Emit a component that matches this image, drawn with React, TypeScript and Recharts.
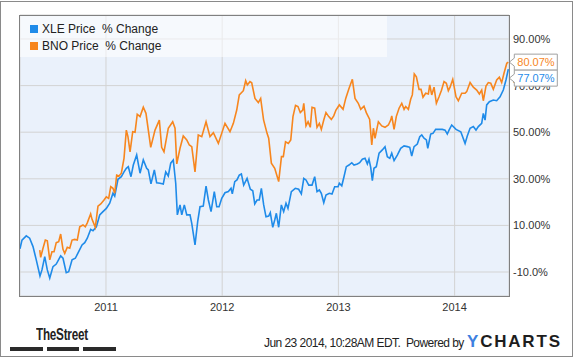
import React from "react";
import {
  LineChart,
  Line,
  XAxis,
  YAxis,
  CartesianGrid,
  ReferenceDot,
} from "recharts";

// decimal-year dates + % change
const xleDates = [
  2010.26, 2010.277, 2010.314, 2010.343, 2010.372, 2010.4, 2010.432, 2010.449, 2010.473, 2010.495,
  2010.516, 2010.544, 2010.572, 2010.61, 2010.63, 2010.658, 2010.679, 2010.708, 2010.736, 2010.765,
  2010.794, 2010.817, 2010.839, 2010.868, 2010.888, 2010.917, 2010.946, 2010.974, 2011.003, 2011.032,
  2011.06, 2011.075, 2011.103, 2011.132, 2011.155, 2011.175, 2011.192, 2011.215, 2011.235, 2011.264,
  2011.293, 2011.321, 2011.35, 2011.364, 2011.387, 2011.416, 2011.436, 2011.465, 2011.493, 2011.514,
  2011.536, 2011.557, 2011.579, 2011.6, 2011.614, 2011.637, 2011.652, 2011.674, 2011.695, 2011.723,
  2011.738, 2011.766, 2011.789, 2011.809, 2011.837, 2011.861, 2011.881, 2011.904, 2011.932, 2011.953,
  2011.973, 2011.996, 2012.024, 2012.053, 2012.076, 2012.087, 2012.108, 2012.127, 2012.147, 2012.165,
  2012.185, 2012.214, 2012.242, 2012.263, 2012.28, 2012.3, 2012.319, 2012.337, 2012.357, 2012.377,
  2012.4, 2012.414, 2012.435, 2012.452, 2012.466, 2012.486, 2012.509, 2012.529, 2012.549, 2012.566,
  2012.595, 2012.629, 2012.658, 2012.681, 2012.702, 2012.721, 2012.745, 2012.773, 2012.796, 2012.816,
  2012.836, 2012.853, 2012.874, 2012.893, 2012.922, 2012.945, 2012.968, 2012.997, 2013.008, 2013.029,
  2013.048, 2013.068, 2013.091, 2013.115, 2013.134, 2013.163, 2013.183, 2013.206, 2013.229, 2013.249,
  2013.263, 2013.278, 2013.292, 2013.306, 2013.326, 2013.35, 2013.378, 2013.401, 2013.421, 2013.442,
  2013.459, 2013.479, 2013.507, 2013.536, 2013.565, 2013.593, 2013.614, 2013.631, 2013.651, 2013.679,
  2013.7, 2013.717, 2013.737, 2013.757, 2013.769, 2013.794, 2013.814, 2013.837, 2013.866, 2013.894,
  2013.918, 2013.937, 2013.952, 2013.975, 2014.012, 2014.053, 2014.09, 2014.109, 2014.133, 2014.161,
  2014.184, 2014.204, 2014.233, 2014.247, 2014.262, 2014.276, 2014.299, 2014.333, 2014.362, 2014.391,
  2014.419, 2014.442, 2014.462,
];
const xleValues = [
  0, 3.7, 5.5, 4.5, 0.9, -4.8, -11.7, -9.1, -3.4, -9.1,
  -12.6, -7.7, -6.6, -3.1, -4.1, -10.3, -9.9, -4.8, -4.1, -1.3,
  1.6, 2.6, 4.5, 8.3, 7.7, 9.4, 14.5, 15.9, 17.3, 19.5,
  23.8, 22.6, 29.8, 30.9, 33.0, 34.5, 35.2, 30.9, 35.9, 40.2,
  32.4, 38.1, 34.5, 33.8, 27.8, 33.8, 28.3, 28.1, 27.8, 33.0,
  31.2, 36.7, 38.1, 28.1, 14.5, 18.8, 14.5, 18.8, 14.5, 14.5,
  10.9, 1.6, 11.6, 18.0, 18.3, 26.9, 20.9, 15.9, 24.5, 18.0,
  18.0, 21.6, 24.0, 24.5, 25.9, 23.5, 28.8, 29.5, 31.6, 32.1,
  27.3, 30.2, 25.5, 24.9, 19.2, 20.9, 20.9, 25.9, 18.8, 13.7,
  14.0, 15.5, 9.2, 12.3, 15.2, 9.2, 18.8, 15.9, 19.5, 17.3,
  24.5, 25.9, 25.5, 23.5, 30.2, 29.5, 27.3, 27.3, 30.9, 24.5,
  25.2, 23.8, 19.7, 23.0, 23.8, 23.5, 26.6, 26.6, 28.1, 27.0,
  30.9, 35.2, 35.9, 36.9, 35.9, 36.4, 36.9, 38.4, 38.8, 36.4,
  38.4, 34.9, 29.2, 34.5, 35.2, 41.0, 42.4, 43.8, 39.5, 38.8,
  41.0, 37.8, 40.2, 43.1, 44.1, 43.8, 43.5, 39.8, 43.8, 44.9,
  48.1, 48.8, 47.4, 46.7, 43.1, 49.2, 49.5, 51.2, 51.2, 51.2,
  50.9, 49.2, 50.9, 53.1, 51.2, 50.2, 45.2, 48.4, 51.7, 52.4,
  50.9, 52.4, 53.8, 58.1, 55.2, 61.7, 63.1, 63.8, 63.5, 65.2,
  68.1, 72.4, 77.07,
];

const bnoDates = [
  2010.43, 2010.438, 2010.458, 2010.478, 2010.495, 2010.516, 2010.535, 2010.553, 2010.572, 2010.593,
  2010.61, 2010.63, 2010.645, 2010.667, 2010.688, 2010.708, 2010.731, 2010.753, 2010.774, 2010.802,
  2010.822, 2010.839, 2010.868, 2010.88, 2010.908, 2010.931, 2010.955, 2010.983, 2011.003, 2011.023,
  2011.041, 2011.06, 2011.075, 2011.092, 2011.112, 2011.132, 2011.155, 2011.175, 2011.189, 2011.207,
  2011.23, 2011.25, 2011.269, 2011.293, 2011.321, 2011.344, 2011.385, 2011.422, 2011.459, 2011.479,
  2011.499, 2011.536, 2011.574, 2011.594, 2011.609, 2011.637, 2011.665, 2011.695, 2011.717, 2011.738,
  2011.766, 2011.794, 2011.824, 2011.861, 2011.895, 2011.924, 2011.967, 2012.024, 2012.067, 2012.096,
  2012.125, 2012.147, 2012.182, 2012.202, 2012.216, 2012.239, 2012.254, 2012.282, 2012.311, 2012.331,
  2012.356, 2012.386, 2012.4, 2012.423, 2012.452, 2012.486, 2012.51, 2012.526, 2012.545, 2012.569,
  2012.59, 2012.609, 2012.631, 2012.652, 2012.672, 2012.693, 2012.702, 2012.721, 2012.739, 2012.758,
  2012.773, 2012.796, 2012.816, 2012.836, 2012.853, 2012.874, 2012.893, 2012.917, 2012.939, 2012.96,
  2012.979, 2013.008, 2013.04, 2013.063, 2013.091, 2013.12, 2013.143, 2013.171, 2013.192, 2013.22,
  2013.24, 2013.269, 2013.287, 2013.301, 2013.315, 2013.344, 2013.373, 2013.401, 2013.43, 2013.45,
  2013.459, 2013.479, 2013.498, 2013.522, 2013.545, 2013.565, 2013.579, 2013.602, 2013.622, 2013.636,
  2013.653, 2013.671, 2013.694, 2013.711, 2013.728, 2013.751, 2013.774, 2013.786, 2013.803, 2013.823,
  2013.843, 2013.866, 2013.887, 2013.909, 2013.929, 2013.946, 2013.961, 2013.984, 2014.012, 2014.032,
  2014.061, 2014.09, 2014.104, 2014.133, 2014.161, 2014.19, 2014.213, 2014.233, 2014.247, 2014.27,
  2014.29, 2014.311, 2014.333, 2014.362, 2014.385, 2014.405, 2014.425, 2014.449, 2014.462,
];
const bnoValues = [
  -0.6, -3.7, 0.2, 3.7, 3.4, -4.8, -1.3, -1.3, 2.6, 3.0,
  6.3, -0.3, -2.0, 0.6, 0.2, 3.7, 4.0, 3.7, 9.4, 10.2,
  9.4, 11.1, 14.9, 12.6, 9.2, 18.3, 19.2, 20.9, 22.3, 21.6,
  26.6, 25.9, 23.8, 31.6, 31.2, 32.4, 38.8, 50.9, 48.1, 41.6,
  50.2, 50.0, 57.7, 56.7, 60.7, 58.1, 43.5, 50.9, 55.2, 43.5,
  41.6, 51.7, 54.5, 51.7, 36.4, 43.1, 48.4, 46.7, 44.5, 43.8,
  33.0, 48.8, 48.1, 54.5, 48.1, 49.8, 45.2, 53.8, 50.2, 53.8,
  59.5, 66.0, 67.8, 72.1, 70.3, 71.7, 71.2, 64.5, 62.7, 64.5,
  55.3, 49.5, 47.4, 36.7, 34.5, 28.8, 39.5, 39.5, 45.9, 45.2,
  46.7, 56.7, 61.5, 61.0, 58.4, 59.5, 62.4, 52.7, 54.5, 52.1,
  60.7, 60.3, 52.1, 53.8, 51.2, 55.2, 58.4, 56.7, 55.5, 57.0,
  59.5, 61.7, 59.8, 64.5, 68.8, 72.7, 64.5, 62.4, 59.8, 61.2,
  58.4, 55.5, 44.5, 51.7, 47.4, 54.5, 52.7, 52.1, 53.1, 55.2,
  57.0, 51.2, 56.7, 60.3, 62.4, 59.8, 61.0, 59.8, 64.1, 66.0,
  75.0, 73.8, 68.4, 68.4, 65.0, 66.7, 66.4, 70.3, 66.0, 69.3,
  62.4, 65.2, 68.0, 71.7, 71.0, 67.8, 69.3, 72.7, 65.2, 63.5,
  66.7, 66.7, 67.4, 71.3, 69.3, 68.1, 66.4, 68.1, 63.5, 69.8,
  71.3, 71.0, 68.4, 72.4, 73.6, 71.3, 75.3, 79.6, 80.07,
];

const yearTicks = [2011, 2012, 2013, 2014];
const pctTicks = [-10, 10, 30, 50, 70, 90];
const pctLabels = ["-10.0%", "10.00%", "30.00%", "50.00%", "70.00%", "90.00%"];

const XLE_COLOR = "#1f8be9";
const BNO_COLOR = "#f7861e";
const FONT = '"Liberation Sans", Arial, sans-serif';

const xleData = xleDates.map((t, i) => ({ t, v: xleValues[i] }));
const bnoData = bnoDates.map((t, i) => ({ t, v: bnoValues[i] }));

const endBox = (color: string, text: string, shift: number) => (props: any) => {
  const x0 = props.cx + 1;
  const cy = props.cy + shift;
  const top = cy - 8;
  const bot = cy + 8;
  const d = `M${x0},${cy} L${x0 + 5},${cy - 4} L${x0 + 5},${top} L${x0 + 48},${top} L${x0 + 48},${bot} L${x0 + 5},${bot} L${x0 + 5},${cy + 4} Z`;
  return (
    <g>
      <path d={d} fill="#fff" stroke="#a0a0a0" strokeWidth={1} />
      <text x={x0 + 8} y={cy + 4} fill={color} fontSize={11} fontFamily={FONT}>
        {text}
      </text>
    </g>
  );
};

export default function App() {
  const lastX = xleData[xleData.length - 1];
  const lastB = bnoData[bnoData.length - 1];
  return (
    <div style={{ position: "absolute", left: 0, top: 0, width: 575, height: 358, background: "#fff", fontFamily: FONT }}>
      <div style={{ position: "absolute", left: 0, top: 1, width: 573, height: 356, border: "1px solid #8a8a8a", boxSizing: "border-box" }} />
      <div style={{ position: "absolute", left: 0, top: 0 }}>
        <LineChart width={575} height={358} margin={{ top: 15, right: 11, bottom: 32, left: 20 }}>
          <CartesianGrid fill="#eaf1fb" stroke="#d3d3d3" />
          <XAxis
            type="number"
            dataKey="t"
            domain={[2010.26, 2014.468]}
            ticks={yearTicks}
            allowDataOverflow
            height={30}
            tickLine={false}
            axisLine={false}
            tickSize={0}
            tickMargin={7}
            tick={{ fill: "#333", fontSize: 11, fontFamily: FONT }}
            tickFormatter={(v: number) => String(v)}
          />
          <YAxis
            orientation="right"
            domain={[-20.3, 100.3]}
            ticks={pctTicks}
            allowDataOverflow
            width={55}
            tickLine={false}
            axisLine={false}
            tickSize={0}
            tickMargin={4}
            tick={{ fill: "#333", fontSize: 11, fontFamily: FONT, textAnchor: "start" }}
            tickFormatter={(v: number) => pctLabels[pctTicks.indexOf(v)]}
          />
          <Line data={xleData} dataKey="v" type="linear" stroke={XLE_COLOR} strokeWidth={1.6} dot={false} isAnimationActive={false} />
          <Line data={bnoData} dataKey="v" type="linear" stroke={BNO_COLOR} strokeWidth={1.6} dot={false} isAnimationActive={false} />
          <ReferenceDot zIndex={2000} x={lastB.t} y={lastB.v} r={0} ifOverflow="visible" shape={endBox(BNO_COLOR, "80.07%", 0)} />
          <ReferenceDot zIndex={2000} x={lastX.t} y={lastX.v} r={0} ifOverflow="visible" shape={endBox(XLE_COLOR, "77.07%", 9)} />
        </LineChart>
      </div>

      {/* legend over the plot, half see-through */}
      <div style={{ position: "absolute", left: 20, top: 15, width: 367, height: 42, background: "rgba(255,255,255,0.55)", fontSize: 12, color: "#222" }}>
        <div style={{ position: "absolute", left: 10, top: 7, display: "flex", alignItems: "center", whiteSpace: "pre" }}>
          <span style={{ width: 8, height: 8, background: XLE_COLOR, marginRight: 4 }} />
          XLE Price  % Change
        </div>
        <div style={{ position: "absolute", left: 10, top: 24, display: "flex", alignItems: "center", whiteSpace: "pre" }}>
          <span style={{ width: 8, height: 8, background: BNO_COLOR, marginRight: 4 }} />
          BNO Price  % Change
        </div>
      </div>
      <div style={{ position: "absolute", left: 19, top: 15, width: 491, height: 282, border: "1px solid #808080", boxSizing: "border-box" }} />

      {/* footer */}
      <div style={{ position: "absolute", left: 36, top: 326, fontWeight: "bold", fontSize: 16, color: "#222", letterSpacing: -0.3, transform: "scaleX(0.73)", transformOrigin: "left top" }}>
        TheStreet
      </div>
      <div style={{ position: "absolute", left: 10, top: 347, width: 33, height: 4, background: "#2a2a2a" }} />
      <div style={{ position: "absolute", left: 47, top: 347, width: 32, height: 4, background: "#2a2a2a" }} />
      <div style={{ position: "absolute", left: 83, top: 347, width: 33, height: 4, background: "#2a2a2a" }} />
      <div style={{ position: "absolute", left: 264, top: 336, fontSize: 12, color: "#222", whiteSpace: "pre", letterSpacing: -0.55 }}>
        Jun 23 2014, 10:28AM EDT.  Powered by
      </div>
      <div style={{ position: "absolute", left: 467, top: 332, fontSize: 17, fontWeight: "bold", color: "#1d1d1d", letterSpacing: 1.8, whiteSpace: "pre" }}>
        <span style={{ color: "#3d80e0" }}>Y</span>CHARTS
      </div>
    </div>
  );
}
